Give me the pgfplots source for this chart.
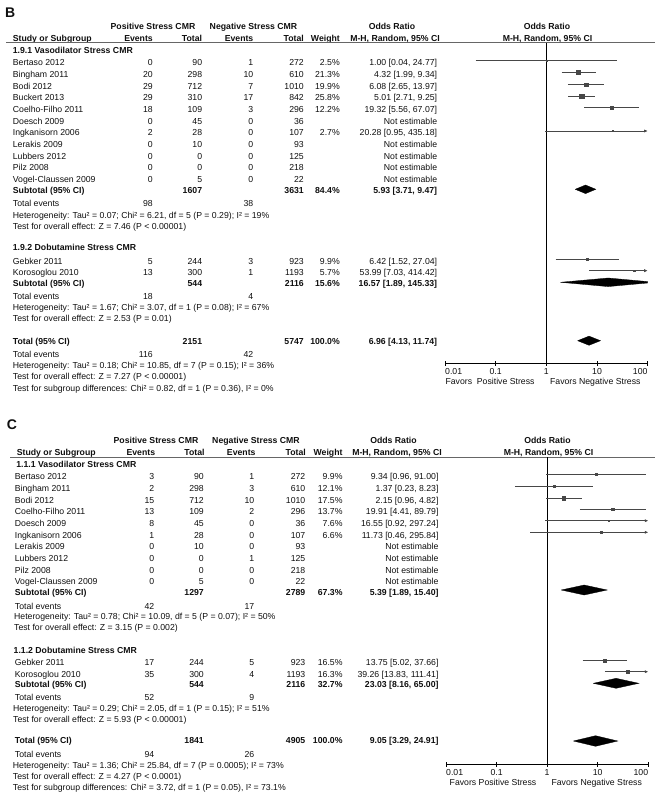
\documentclass[border=0pt]{standalone}
\usepackage{fontspec}
\setmainfont{Liberation Sans}
\usepackage{pgfplots}
\pgfplotsset{compat=1.18}
\usetikzlibrary{arrows.meta}
\definecolor{ci}{gray}{0.28}
\definecolor{sq}{gray}{0.28}
\definecolor{txt}{gray}{0.06}
\newcommand{\fs}{\fontsize{8.7}{10}\selectfont}
\newcommand{\TL}[3]{\node[anchor=base west] at (#1,#2+3.1) {#3};}
\newcommand{\TR}[3]{\node[anchor=base east] at (#1,#2+3.1) {#3};}
\newcommand{\TC}[3]{\node[anchor=base] at (#1,#2+3.1) {#3};}
% panel B columns
\newcommand{\RowB}[8]{\TL{12.7}{#1}{#2}\TR{153}{#1}{#3}\TR{202.3}{#1}{#4}\TR{253.5}{#1}{#5}\TR{304}{#1}{#6}\TR{340}{#1}{#7}\TR{437.3}{#1}{#8}}
% panel C columns
\newcommand{\RowC}[8]{\TL{14.7}{#1}{#2}\TR{154.5}{#1}{#3}\TR{204}{#1}{#4}\TR{254.5}{#1}{#5}\TR{305.5}{#1}{#6}\TR{342.7}{#1}{#7}\TR{438.7}{#1}{#8}}
\tikzset{
  ciline/.style={draw=ci, line width=0.85pt},
  ciarrow/.style={draw=ci, line width=0.85pt, -{Latex[length=3.5pt,width=3.2pt]}},
  dia/.style={fill=black, draw=black, line width=0.3pt},
}
\begin{document}
\begin{tikzpicture}[x=1pt, y=-1pt]
\path[use as bounding box] (0,0) rectangle (661,799);
\begin{scope}[every node/.style={inner sep=0pt, font=\fs, text=txt}]
% ================= PANEL B =================
\node[anchor=base west, font=\fontsize{14}{16}\bfseries\selectfont] at (5,17.3) {B};
\TC{153}{26.7}{\bfseries Positive Stress CMR}
\TC{253.5}{26.7}{\bfseries Negative Stress CMR}
\TC{392}{26.7}{\bfseries Odds Ratio}
\TC{547}{26.7}{\bfseries Odds Ratio}
\TL{12.7}{38.3}{\bfseries Study or Subgroup}
\TR{153}{38.3}{\bfseries Events}
\TR{202.3}{38.3}{\bfseries Total}
\TR{253.5}{38.3}{\bfseries Events}
\TR{304}{38.3}{\bfseries Total}
\TR{340}{38.3}{\bfseries Weight}
\TC{395}{38.3}{\bfseries M-H, Random, 95\% CI}
\TC{547.5}{38.3}{\bfseries M-H, Random, 95\% CI}
\draw[line width=1.1pt, black!60] (6,42.7) -- (655,42.7);
\TL{12.7}{50.7}{\bfseries 1.9.1 Vasodilator Stress CMR}
\RowB{62.7}{Bertaso 2012}{0}{90}{1}{272}{2.5\%}{1.00 [0.04, 24.77]}
\RowB{74.3}{Bingham 2011}{20}{298}{10}{610}{21.3\%}{4.32 [1.99, 9.34]}
\RowB{86}{Bodi 2012}{29}{712}{7}{1010}{19.9\%}{6.08 [2.65, 13.97]}
\RowB{97.7}{Buckert 2013}{29}{310}{17}{842}{25.8\%}{5.01 [2.71, 9.25]}
\RowB{109.3}{Coelho-Filho 2011}{18}{109}{3}{296}{12.2\%}{19.32 [5.56, 67.07]}
\RowB{121}{Doesch 2009}{0}{45}{0}{36}{}{Not estimable}
\RowB{132.7}{Ingkanisorn 2006}{2}{28}{0}{107}{2.7\%}{20.28 [0.95, 435.18]}
\RowB{144.3}{Lerakis 2009}{0}{10}{0}{93}{}{Not estimable}
\RowB{156}{Lubbers 2012}{0}{0}{0}{125}{}{Not estimable}
\RowB{167.7}{Pilz 2008}{0}{0}{0}{218}{}{Not estimable}
\RowB{179.3}{Vogel-Claussen 2009}{0}{5}{0}{22}{}{Not estimable}
\RowB{190}{\bfseries Subtotal (95\% CI)}{}{\bfseries 1607}{}{\bfseries 3631}{\bfseries 84.4\%}{\bfseries 5.93 [3.71, 9.47]}
\RowB{203.3}{Total events}{98}{}{38}{}{}{}
\TL{12.7}{215}{Heterogeneity: Tau² = 0.07; Chi² = 6.21, df = 5 (P = 0.29); I² = 19\%}
\TL{12.7}{226}{Test for overall effect: Z = 7.46 (P < 0.00001)}
\TL{12.7}{247.7}{\bfseries 1.9.2 Dobutamine Stress CMR}
\RowB{261}{Gebker 2011}{5}{244}{3}{923}{9.9\%}{6.42 [1.52, 27.04]}
\RowB{272.7}{Korosoglou 2010}{13}{300}{1}{1193}{5.7\%}{53.99 [7.03, 414.42]}
\RowB{283.3}{\bfseries Subtotal (95\% CI)}{}{\bfseries 544}{}{\bfseries 2116}{\bfseries 15.6\%}{\bfseries 16.57 [1.89, 145.33]}
\RowB{296}{Total events}{18}{}{4}{}{}{}
\TL{12.7}{307.7}{Heterogeneity: Tau² = 1.67; Chi² = 3.07, df = 1 (P = 0.08); I² = 67\%}
\TL{12.7}{318.3}{Test for overall effect: Z = 2.53 (P = 0.01)}
\RowB{341}{\bfseries Total (95\% CI)}{}{\bfseries 2151}{}{\bfseries 5747}{\bfseries 100.0\%}{\bfseries 6.96 [4.13, 11.74]}
\RowB{354.3}{Total events}{116}{}{42}{}{}{}
\TL{12.7}{365}{Heterogeneity: Tau² = 0.18; Chi² = 10.85, df = 7 (P = 0.15); I² = 36\%}
\TL{12.7}{376}{Test for overall effect: Z = 7.27 (P < 0.00001)}
\TL{12.7}{388.3}{Test for subgroup differences: Chi² = 0.82, df = 1 (P = 0.36), I² = 0\%}
\TC{490}{381.7}{Favors\ \ Positive Stress}
\TC{595.3}{381.7}{Favors Negative Stress}
\TL{445}{371.7}{0.01}
\TR{647.7}{371.7}{100}
% ================= PANEL C =================
\node[anchor=base west, font=\fontsize{14}{16}\bfseries\selectfont] at (6.7,429.3) {C};
\TC{156}{440.7}{\bfseries Positive Stress CMR}
\TC{256}{440.7}{\bfseries Negative Stress CMR}
\TC{393.5}{440.7}{\bfseries Odds Ratio}
\TC{547.5}{440.7}{\bfseries Odds Ratio}
\TL{16.7}{452.3}{\bfseries Study or Subgroup}
\TR{155.3}{452.3}{\bfseries Events}
\TR{204.7}{452.3}{\bfseries Total}
\TR{255.7}{452.3}{\bfseries Events}
\TR{306}{452.3}{\bfseries Total}
\TR{342.7}{452.3}{\bfseries Weight}
\TC{397}{452.3}{\bfseries M-H, Random, 95\% CI}
\TC{548.5}{452.3}{\bfseries M-H, Random, 95\% CI}
\draw[line width=1.1pt, black!60] (10,457.3) -- (655,457.3);
\TL{16.2}{464}{\bfseries 1.1.1 Vasodilator Stress CMR}
\RowC{476.7}{Bertaso 2012}{3}{90}{1}{272}{9.9\%}{9.34 [0.96, 91.00]}
\RowC{488.3}{Bingham 2011}{2}{298}{3}{610}{12.1\%}{1.37 [0.23, 8.23]}
\RowC{500}{Bodi 2012}{15}{712}{10}{1010}{17.5\%}{2.15 [0.96, 4.82]}
\RowC{511.7}{Coelho-Filho 2011}{13}{109}{2}{296}{13.7\%}{19.91 [4.41, 89.79]}
\RowC{523.3}{Doesch 2009}{8}{45}{0}{36}{7.6\%}{16.55 [0.92, 297.24]}
\RowC{535}{Ingkanisorn 2006}{1}{28}{0}{107}{6.6\%}{11.73 [0.46, 295.84]}
\RowC{546.7}{Lerakis 2009}{0}{10}{0}{93}{}{Not estimable}
\RowC{558.3}{Lubbers 2012}{0}{0}{1}{125}{}{Not estimable}
\RowC{570}{Pilz 2008}{0}{0}{0}{218}{}{Not estimable}
\RowC{581.7}{Vogel-Claussen 2009}{0}{5}{0}{22}{}{Not estimable}
\RowC{592.7}{\bfseries Subtotal (95\% CI)}{}{\bfseries 1297}{}{\bfseries 2789}{\bfseries 67.3\%}{\bfseries 5.39 [1.89, 15.40]}
\RowC{606}{Total events}{42}{}{17}{}{}{}
\TL{14}{616.7}{Heterogeneity: Tau² = 0.78; Chi² = 10.09, df = 5 (P = 0.07); I² = 50\%}
\TL{14}{627.3}{Test for overall effect: Z = 3.15 (P = 0.002)}
\TL{13.5}{650.7}{\bfseries 1.1.2 Dobutamine Stress CMR}
\RowC{662.3}{Gebker 2011}{17}{244}{5}{923}{16.5\%}{13.75 [5.02, 37.66]}
\RowC{674}{Korosoglou 2010}{35}{300}{4}{1193}{16.3\%}{39.26 [13.83, 111.41]}
\RowC{684}{\bfseries Subtotal (95\% CI)}{}{\bfseries 544}{}{\bfseries 2116}{\bfseries 32.7\%}{\bfseries 23.03 [8.16, 65.00]}
\RowC{697.7}{Total events}{52}{}{9}{}{}{}
\TL{13}{708.3}{Heterogeneity: Tau² = 0.29; Chi² = 2.05, df = 1 (P = 0.15); I² = 51\%}
\TL{13}{719.3}{Test for overall effect: Z = 5.93 (P < 0.00001)}
\RowC{740.7}{\bfseries Total (95\% CI)}{}{\bfseries 1841}{}{\bfseries 4905}{\bfseries 100.0\%}{\bfseries 9.05 [3.29, 24.91]}
\RowC{754.3}{Total events}{94}{}{26}{}{}{}
\TL{12.7}{765.3}{Heterogeneity: Tau² = 1.36; Chi² = 25.84, df = 7 (P = 0.0005); I² = 73\%}
\TL{12.7}{776}{Test for overall effect: Z = 4.27 (P < 0.0001)}
\TL{12.7}{787.3}{Test for subgroup differences: Chi² = 3.72, df = 1 (P = 0.05), I² = 73.1\%}
\TC{493}{782.7}{Favors Positive Stress}
\TC{596.7}{782.7}{Favors Negative Stress}
\TL{446}{772.7}{0.01}
\TR{648.3}{772.7}{100}
\end{scope}

\begin{axis}[at={(445pt,-363pt)}, anchor=south west,
  scale only axis, width=202.7pt, height=320pt,
  xmode=log, xmin=0.01, xmax=100, ymin=-363, ymax=-43,
  axis y line=none, axis x line=bottom,
  x axis line style={-, line width=0.8pt, black},
  xtick={0.01,0.1,1,10,100}, xticklabels={,0.1,1,10,},
  xminorticks=false, tick align=center, major tick length=5pt,
  xtick style={black, line width=0.8pt},
  xticklabel style={font=\fs, text=txt, inner sep=0pt, anchor=north, yshift=-3.2pt},
  clip=false]
\addplot[black, line width=0.8pt] coordinates {(1,-43) (1,-363)};
\addplot[ciline] coordinates {(0.04,-60.7) (24.77,-60.7)};
\addplot[only marks, mark=square*, mark options={draw=sq, fill=sq}, mark size=0.6pt] coordinates {(1.00,-60.7)};
\addplot[ciline] coordinates {(1.99,-72.7) (9.34,-72.7)};
\addplot[only marks, mark=square*, mark options={draw=sq, fill=sq}, mark size=2.0pt] coordinates {(4.32,-72.7)};
\addplot[ciline] coordinates {(2.65,-84.7) (13.97,-84.7)};
\addplot[only marks, mark=square*, mark options={draw=sq, fill=sq}, mark size=1.9pt] coordinates {(6.08,-84.7)};
\addplot[ciline] coordinates {(2.71,-96.5) (9.25,-96.5)};
\addplot[only marks, mark=square*, mark options={draw=sq, fill=sq}, mark size=2.2pt] coordinates {(5.01,-96.5)};
\addplot[ciline] coordinates {(5.56,-107.7) (67.07,-107.7)};
\addplot[only marks, mark=square*, mark options={draw=sq, fill=sq}, mark size=1.3pt] coordinates {(19.32,-107.7)};
\addplot[ciarrow] coordinates {(0.95,-131) (100,-131)};
\addplot[only marks, mark=square*, mark options={draw=sq, fill=sq}, mark size=0.6pt] coordinates {(20.28,-131)};
\addplot[dia] coordinates {(3.71,-189.3) (5.93,-185.0) (9.47,-189.3) (5.93,-193.6) (3.71,-189.3)};
\addplot[ciline] coordinates {(1.52,-259) (27.04,-259)};
\addplot[only marks, mark=square*, mark options={draw=sq, fill=sq}, mark size=1.1pt] coordinates {(6.42,-259)};
\addplot[ciarrow] coordinates {(7.03,-270.7) (100,-270.7)};
\addplot[only marks, mark=square*, mark options={draw=sq, fill=sq}, mark size=0.8pt] coordinates {(53.99,-270.7)};
\addplot[dia] coordinates {(1.89,-282.3) (16.57,-278.0) (100,-281.6) (100,-283.0) (16.57,-286.6) (1.89,-282.3)};
\addplot[dia] coordinates {(4.13,-340.7) (6.96,-336.1) (11.74,-340.7) (6.96,-345.3) (4.13,-340.7)};
\end{axis}

\begin{axis}[at={(446pt,-764pt)}, anchor=south west,
  scale only axis, width=202.3pt, height=306.7pt,
  xmode=log, xmin=0.01, xmax=100, ymin=-764, ymax=-457.3,
  axis y line=none, axis x line=bottom,
  x axis line style={-, line width=0.8pt, black},
  xtick={0.01,0.1,1,10,100}, xticklabels={,0.1,1,10,},
  xminorticks=false, tick align=center, major tick length=5pt,
  xtick style={black, line width=0.8pt},
  xticklabel style={font=\fs, text=txt, inner sep=0pt, anchor=north, yshift=-3.2pt},
  clip=false]
\addplot[black, line width=0.8pt] coordinates {(1,-457.3) (1,-764)};
\addplot[ciline] coordinates {(0.96,-474) (91.00,-474)};
\addplot[only marks, mark=square*, mark options={draw=sq, fill=sq}, mark size=0.9pt] coordinates {(9.34,-474)};
\addplot[ciline] coordinates {(0.23,-486.3) (8.23,-486.3)};
\addplot[only marks, mark=square*, mark options={draw=sq, fill=sq}, mark size=1.1pt] coordinates {(1.37,-486.3)};
\addplot[ciline] coordinates {(0.96,-498) (4.82,-498)};
\addplot[only marks, mark=square*, mark options={draw=sq, fill=sq}, mark size=1.7pt] coordinates {(2.15,-498)};
\addplot[ciline] coordinates {(4.41,-509.3) (89.79,-509.3)};
\addplot[only marks, mark=square*, mark options={draw=sq, fill=sq}, mark size=1.3pt] coordinates {(19.91,-509.3)};
\addplot[ciarrow] coordinates {(0.92,-520.7) (100,-520.7)};
\addplot[only marks, mark=square*, mark options={draw=sq, fill=sq}, mark size=0.8pt] coordinates {(16.55,-520.7)};
\addplot[ciarrow] coordinates {(0.46,-532.3) (100,-532.3)};
\addplot[only marks, mark=square*, mark options={draw=sq, fill=sq}, mark size=0.7pt] coordinates {(11.73,-532.3)};
\addplot[dia] coordinates {(1.89,-590) (5.39,-585) (15.40,-590) (5.39,-595) (1.89,-590)};
\addplot[ciline] coordinates {(5.02,-660.7) (37.66,-660.7)};
\addplot[only marks, mark=square*, mark options={draw=sq, fill=sq}, mark size=1.5pt] coordinates {(13.75,-660.7)};
\addplot[ciarrow] coordinates {(13.83,-671.7) (100,-671.7)};
\addplot[only marks, mark=square*, mark options={draw=sq, fill=sq}, mark size=1.5pt] coordinates {(39.26,-671.7)};
\addplot[dia] coordinates {(8.16,-683.3) (23.03,-678.3) (65.00,-683.3) (23.03,-688.3) (8.16,-683.3)};
\addplot[dia] coordinates {(3.29,-741) (9.05,-735.7) (24.91,-741) (9.05,-746.3) (3.29,-741)};
\end{axis}
\end{tikzpicture}
\end{document}
